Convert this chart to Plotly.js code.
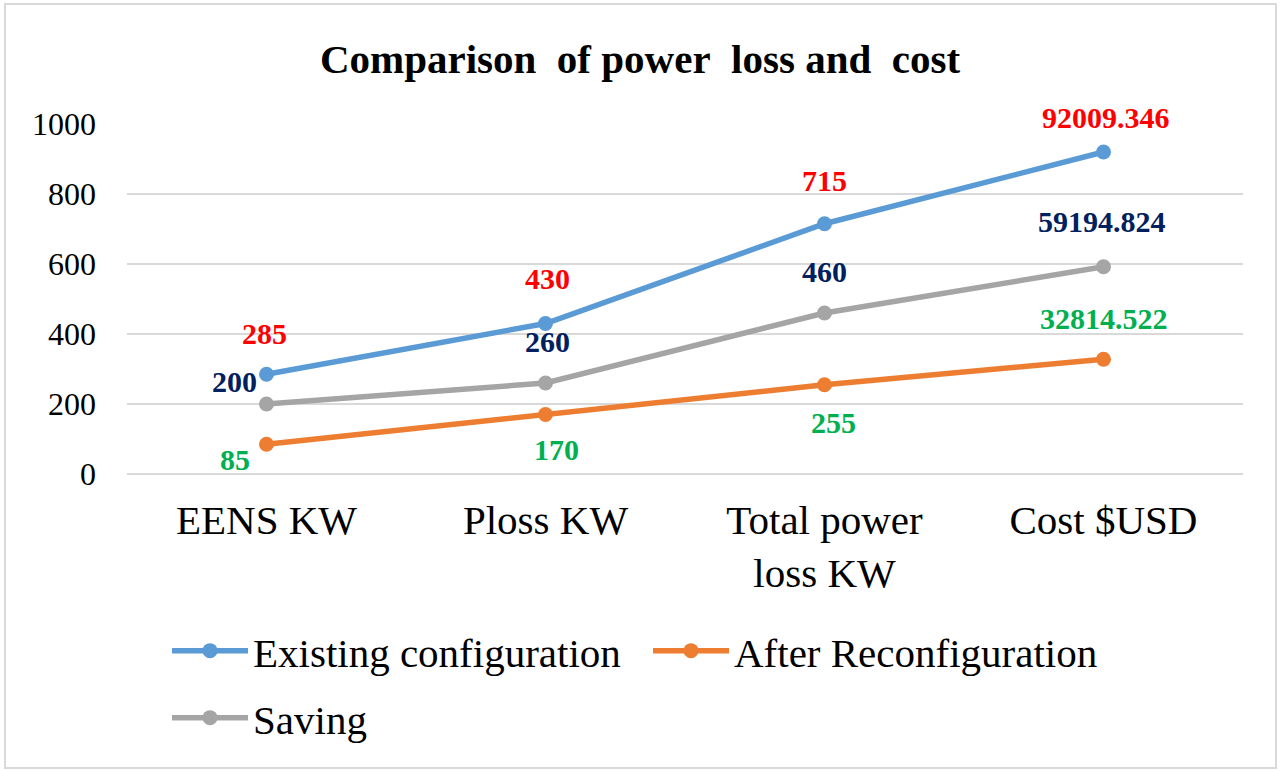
<!DOCTYPE html>
<html>
<head>
<meta charset="utf-8">
<script src="https://cdn.plot.ly/plotly-3.0.1.min.js"></script>
<style>
  html, body { margin: 0; padding: 0; background: #fff; }
  #wrap { position: relative; width: 1280px; height: 770px; }
  #chart { width: 1280px; height: 770px; }
  #frame { position: absolute; left: 4px; top: 3px; width: 1269px; height: 762px;
           border: 2px solid #D9D9D9; pointer-events: none; }
</style>
</head>
<body>
<div id="wrap"><div id="chart"></div><div id="frame"></div></div>
<script>
// ---- data ----
const categories = ['EENS KW', 'Ploss KW', 'Total power<br>loss KW', 'Cost $USD'];
const existingValues = [285, 430, 715, 920];
const afterValues = [85, 170, 255, 328];
const savingValues = [200, 260, 460, 592];
const existingLabels = ['285', '430', '715', '92009.346'];
const afterLabels = ['85', '170', '255', '32814.522'];
const savingLabels = ['200', '260', '460', '59194.824'];
const yTicks = [0, 200, 400, 600, 800, 1000];

// ---- styling ----
const FONT = '"Liberation Serif", "Times New Roman", serif';
const C_BLUE = '#5B9BD5', C_ORANGE = '#ED7D31', C_GRAY = '#A5A5A5';
const LBL_RED = '#FF0000', LBL_NAVY = '#002060', LBL_GREEN = '#00B050';

// label offsets (pixels) per point: [xshift, yshift]
const existingShift = [[-2, 41], [2, 45], [0, 43], [2, 35]];
const afterShift = [[-32, -15], [11, -35], [9, -38], [0, 41]];
const savingShift = [[-32, 23], [2, 42], [0, 42], [-2, 45]];

function trace(name, vals, color, legend) {
  return {
    type: 'scatter', mode: 'lines+markers', name: name,
    x: categories, y: vals,
    line: { color: color, width: 5.5 },
    marker: { color: color, size: 15 },
    legend: legend
  };
}

const data = [
  trace('Existing configuration', existingValues, C_BLUE, 'legend'),
  trace('After Reconfiguration', afterValues, C_ORANGE, 'legend'),
  trace('Saving', savingValues, C_GRAY, 'legend2')
];

function labels(vals, texts, color, shifts) {
  return vals.map((v, i) => ({
    x: categories[i], y: v, xref: 'x', yref: 'y',
    text: texts[i], showarrow: false,
    xshift: shifts[i][0], yshift: shifts[i][1],
    font: { family: FONT, size: 30, color: color, weight: 'bold' }
  }));
}

const annotations = [].concat(
  labels(existingValues, existingLabels, LBL_RED, existingShift),
  labels(savingValues, savingLabels, LBL_NAVY, savingShift),
  labels(afterValues, afterLabels, LBL_GREEN, afterShift)
);

const legendCommon = {
  orientation: 'h', xref: 'container', yref: 'container',
  xanchor: 'left', yanchor: 'middle',
  font: { family: FONT, size: 41, color: '#000' },
  itemwidth: 76, bgcolor: 'rgba(0,0,0,0)', borderwidth: 0
};

const layout = {
  width: 1280, height: 770,
  paper_bgcolor: '#fff', plot_bgcolor: '#fff',
  margin: { l: 127, r: 37, t: 124, b: 296 },
  title: {
    text: '<b>Comparison\u00a0 of power\u00a0 loss and\u00a0 cost</b>',
    font: { family: FONT, size: 41, color: '#000' },
    x: 0.5, xanchor: 'center', y: 0.924, yanchor: 'middle', xref: 'container', yref: 'container'
  },
  xaxis: {
    type: 'category', range: [-0.5, 3.5],
    showgrid: false, showline: false, zeroline: false, ticks: '',
    tickfont: { family: FONT, size: 41, color: '#000' },
    ticklabelstandoff: 18
  },
  yaxis: {
    range: [0, 1000], tickvals: yTicks, ticktext: yTicks.map(String),
    showgrid: true, gridcolor: '#D9D9D9', gridwidth: 2,
    zeroline: true, zerolinecolor: '#D9D9D9', zerolinewidth: 2,
    showline: false, ticks: '',
    tickfont: { family: FONT, size: 32, color: '#000' },
    ticklabelstandoff: 30
  },
  showlegend: true,
  legend: Object.assign({}, legendCommon, { x: 167 / 1280, y: 1 - 651 / 770, entrywidth: 390 }),
  legend2: Object.assign({}, legendCommon, { x: 167 / 1280, y: 1 - 718 / 770 }),
  annotations: annotations,
  hovermode: false
};

Plotly.newPlot('chart', data, layout, { staticPlot: true, displayModeBar: false });
</script>
</body>
</html>
